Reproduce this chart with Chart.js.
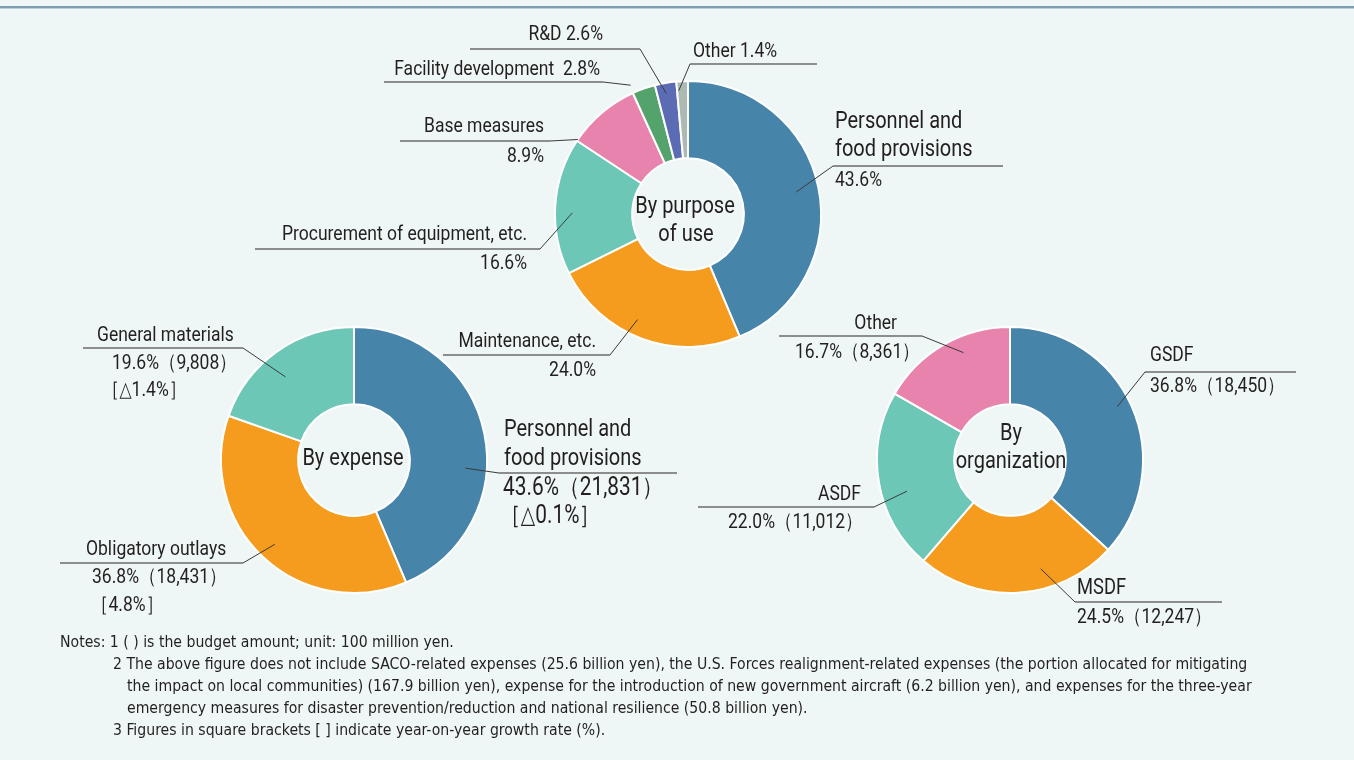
<!DOCTYPE html>
<html>
<head>
<meta charset="utf-8">
<script src="https://cdn.jsdelivr.net/npm/chart.js@4.4.1/dist/chart.umd.min.js"></script>
<style>
    html, body { margin: 0; padding: 0; }
    body { width: 1354px; height: 760px; background: #eef7f5; position: relative; overflow: hidden;
           font-family: "DejaVu Sans Condensed", Roboto, sans-serif; color: #231f20; }
    .topline { position: absolute; left: 0; top: 6px; width: 1354px; height: 2px; background: #7f9db2;
               border-bottom: 1px solid #bcd0da; }
    canvas { position: absolute; left: 0; top: 0; }
    .notes { position: absolute; left: 60px; top: 631px; font-size: 15.65px; line-height: 22px; }
    .notes div { white-space: nowrap; }
</style>
</head>
<body>
<div class="topline"></div>
<canvas id="chart-purpose" width="1354" height="760"></canvas>
<canvas id="chart-expense" width="1354" height="760"></canvas>
<canvas id="chart-org" width="1354" height="760"></canvas>
<div class="notes">
    <div>Notes: 1 ( ) is the budget amount; unit: 100 million yen.</div>
    <div style="padding-left:53px">2 The above figure does not include SACO-related expenses (25.6 billion yen), the U.S. Forces realignment-related expenses (the portion allocated for mitigating</div>
    <div style="padding-left:67px">the impact on local communities) (167.9 billion yen), expense for the introduction of new government aircraft (6.2 billion yen), and expenses for the three-year</div>
    <div style="padding-left:67px">emergency measures for disaster prevention/reduction and national resilience (50.8 billion yen).</div>
    <div style="padding-left:53px">3 Figures in square brackets [ ] indicate year-on-year growth rate (%).</div>
</div>
<script>
// ---------------- data ----------------
const purposeLabels = ['Personnel and\nfood provisions', 'Maintenance, etc.', 'Procurement of equipment, etc.',
                       'Base measures', 'Facility development ', 'R&D', 'Other'];
const purposeShares = [43.6, 24.0, 16.6, 8.9, 2.8, 2.6, 1.4];

const expenseLabels = ['Personnel and\nfood provisions', 'Obligatory outlays', 'General materials'];
const expenseShares = [43.6, 36.8, 19.6];
const expenseAmounts = [21831, 18431, 9808];
const expenseGrowth = ['△0.1', '4.8', '△1.4'];

const orgLabels = ['GSDF', 'MSDF', 'ASDF', 'Other'];
const orgShares = [36.8, 24.5, 22.0, 16.7];
const orgAmounts = [18450, 12247, 11012, 8361];

// ---------------- styles ----------------
const FONT = 'Roboto, "DejaVu Sans Condensed", sans-serif';
const TEXT = '#231f20';
const BLUE = '#4784aa', ORANGE = '#f59c1e', TEAL = '#6cc7b6', PINK = '#e883ae',
      GREEN = '#55a36c', PURPLE = '#5b6cb4', GREY = '#adbab4';

const pct = v => v.toFixed(1) + '%';
const amt = v => '（' + v.toLocaleString('en-US') + '）';

// the reference uses a condensed face: squeeze Roboto horizontally to the same width
const measureCtx = document.createElement('canvas').getContext('2d');
measureCtx.font = '21px ' + FONT;
const SX = 245 / measureCtx.measureText('Procurement of equipment, etc.').width;

function drawText(ctx, t, x, y, size, align) {
    ctx.save();
    ctx.translate(x, y);
    ctx.scale(SX, 1);
    ctx.font = size + 'px ' + FONT;
    ctx.textAlign = align || 'left';
    ctx.textBaseline = 'middle';
    ctx.fillStyle = TEXT;
    ctx.fillText(t, 0, 0);
    ctx.restore();
}

// leader lines + labels, anchored on the arc elements
const calloutPlugin = {
    id: 'callouts',
    afterDraw(chart, args, opts) {
        const ctx = chart.ctx;
        const arcs = chart.getDatasetMeta(0).data;
        ctx.save();
        (opts.items || []).forEach(it => {
            const a = arcs[it.i].getProps(['x', 'y', 'startAngle', 'endAngle', 'outerRadius']);
            const ang = a.startAngle + (a.endAngle - a.startAngle) * it.frac;
            const px = a.x + Math.cos(ang) * a.outerRadius * it.rf;
            const py = a.y + Math.sin(ang) * a.outerRadius * it.rf;
            ctx.strokeStyle = '#3a3a3a';
            ctx.lineWidth = 1;
            ctx.beginPath();
            ctx.moveTo(px, py);
            ctx.lineTo(it.ex, it.ey);
            ctx.stroke();
            ctx.strokeStyle = '#6b6b6b';
            ctx.lineWidth = 1.5;
            ctx.beginPath();
            ctx.moveTo(it.ex, it.ey);
            ctx.lineTo(it.ux, it.ey);
            ctx.stroke();
            it.lines.forEach(l => drawText(ctx, l[0], l[1], l[2], l[3], l[4]));
        });
        (opts.center || []).forEach(l => drawText(ctx, l[0], l[1], l[2], l[3], 'center'));
        ctx.restore();
    }
};

function makeDoughnut(id, labels, values, colors, pad, callouts) {
    return new Chart(document.getElementById(id).getContext('2d'), {
        type: 'doughnut',
        data: {
            labels: labels,
            datasets: [{
                data: values,
                backgroundColor: colors,
                borderColor: '#ffffff',
                borderWidth: 2
            }]
        },
        options: {
            responsive: false,
            animation: false,
            cutout: '42%',
            layout: { padding: pad },
            plugins: {
                legend: { display: false },
                tooltip: { enabled: false },
                callouts: callouts
            }
        },
        plugins: [calloutPlugin]
    });
}

// ============ By purpose of use ============
const pn = purposeLabels[0].split('\n');
makeDoughnut('chart-purpose', purposeLabels, purposeShares,
    [BLUE, ORANGE, TEAL, PINK, GREEN, PURPLE, GREY],
    { left: 554, right: 532, top: 80, bottom: 412 },
    {
        center: [['By purpose', 685, 207, 24], ['of use', 686, 235, 24]],
        items: [
            { i: 0, frac: 0.5, rf: 0.83, ex: 833, ey: 166, ux: 1003,
              lines: [[pn[0], 835, 122, 24], [pn[1], 835, 150, 24], [pct(purposeShares[0]), 835, 181, 21]] },
            { i: 1, frac: 0.56, rf: 0.88, ex: 610, ey: 355, ux: 443,
              lines: [[purposeLabels[1], 596, 342, 21, 'right'], [pct(purposeShares[1]), 596, 371, 21, 'right']] },
            { i: 2, frac: 0.45, rf: 0.87, ex: 540, ey: 249, ux: 255,
              lines: [[purposeLabels[2], 527, 235, 21, 'right'], [pct(purposeShares[2]), 527, 264, 21, 'right']] },
            { i: 3, frac: 0.02, rf: 1.0, ex: 550, ey: 141, ux: 400,
              lines: [[purposeLabels[3], 544, 127, 21, 'right'], [pct(purposeShares[3]), 544, 157, 21, 'right']] },
            { i: 4, frac: 0.05, rf: 1.06, ex: 603, ey: 82, ux: 384,
              lines: [[purposeLabels[4] + ' ' + pct(purposeShares[4]), 600, 70, 21, 'right']] },
            { i: 5, frac: 0.45, rf: 0.92, ex: 640, ey: 49, ux: 470,
              lines: [[purposeLabels[5] + ' ' + pct(purposeShares[5]), 603, 35, 21, 'right']] },
            { i: 6, frac: 0.15, rf: 0.93, ex: 690, ey: 64, ux: 817,
              lines: [[purposeLabels[6] + ' ' + pct(purposeShares[6]), 693, 52, 21]] }
        ]
    });

// ============ By expense ============
const en = expenseLabels[0].split('\n');
makeDoughnut('chart-expense', expenseLabels, expenseShares,
    [BLUE, ORANGE, TEAL],
    { left: 220, right: 866, top: 326, bottom: 166 },
    {
        center: [['By expense', 353, 459, 24]],
        items: [
            { i: 0, frac: 0.6, rf: 0.84, ex: 499, ey: 473, ux: 677,
              lines: [[en[0], 504, 430, 24], [en[1], 504, 459, 24],
                      [pct(expenseShares[0]) + amt(expenseAmounts[0]), 503, 489, 25],
                      ['［' + expenseGrowth[0] + '%］', 500, 517, 25]] },
            { i: 1, frac: 0.5, rf: 0.87, ex: 243, ey: 563, ux: 60,
              lines: [[expenseLabels[1], 86, 550, 21],
                      [pct(expenseShares[1]) + amt(expenseAmounts[1]), 92, 578, 21],
                      ['［' + expenseGrowth[1] + '%］', 91, 606, 21]] },
            { i: 2, frac: 0.44, rf: 0.81, ex: 243, ey: 348, ux: 83,
              lines: [[expenseLabels[2], 97, 336, 21],
                      [pct(expenseShares[2]) + amt(expenseAmounts[2]), 112, 364, 21],
                      ['［' + expenseGrowth[2] + '%］', 102, 391, 21]] }
        ]
    });

// ============ By organization ============
makeDoughnut('chart-org', orgLabels, orgShares,
    [BLUE, ORANGE, TEAL, PINK],
    { left: 876, right: 210, top: 326, bottom: 166 },
    {
        center: [['By', 1011, 434, 24], ['organization', 1011, 462, 24]],
        items: [
            { i: 0, frac: 0.48, rf: 0.9, ex: 1145, ey: 372, ux: 1296,
              lines: [[orgLabels[0], 1150, 356, 21], [pct(orgShares[0]) + amt(orgAmounts[0]), 1150, 387, 21]] },
            { i: 1, frac: 0.36, rf: 0.85, ex: 1075, ey: 602, ux: 1222,
              lines: [[orgLabels[1], 1077, 588, 22], [pct(orgShares[1]) + amt(orgAmounts[1]), 1077, 618, 21]] },
            { i: 2, frac: 0.41, rf: 0.81, ex: 874, ey: 507, ux: 698,
              lines: [[orgLabels[2], 861, 495, 21, 'right'], [pct(orgShares[2]) + amt(orgAmounts[2]), 728, 523, 21]] },
            { i: 3, frac: 0.61, rf: 0.88, ex: 922, ey: 336, ux: 779,
              lines: [[orgLabels[3], 897, 324, 21, 'right'], [pct(orgShares[3]) + amt(orgAmounts[3]), 795, 353, 21]] }
        ]
    });
</script>
</body>
</html>
